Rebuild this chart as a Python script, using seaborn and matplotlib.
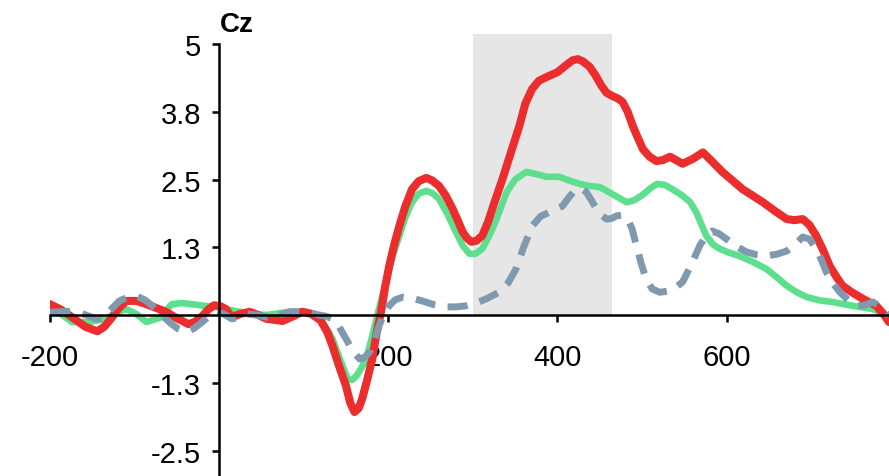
import matplotlib
matplotlib.use("Agg")
import matplotlib.pyplot as plt
import seaborn as sns

# ERP at Cz, time in ms, amplitude in microvolts
red_t = [-200, -187, -174, -158, -144, -136, -128, -119, -110, -98, -86, -63, -50, -36, -28, -20,
         -13, -6, 2, 8, 15, 25, 36, 46, 56, 75, 88, 98, 109, 120, 128, 134, 142, 150, 155, 160,
         165, 169, 175, 181, 186, 192, 196, 201, 207, 213, 220, 228, 236, 245, 252, 260, 268,
         276, 282, 288, 293, 298, 304, 311, 318, 326, 335, 345, 355, 362, 370, 378, 387, 400,
         412, 418, 424, 430, 438, 445, 452, 458, 465, 472, 477, 483, 489, 495, 501, 509, 517,
         525, 533, 540, 548, 560, 572, 583, 595, 607, 619, 631, 643, 657, 671, 680, 690, 698,
         706, 714, 722, 730, 737, 748, 761, 777, 785, 792]
red_v = [0.20, 0.10, -0.04, -0.22, -0.30, -0.22, -0.07, 0.12, 0.26, 0.26, 0.20, 0.06, -0.06, -0.17,
         -0.12, -0.02, 0.10, 0.18, 0.16, 0.11, -0.04, 0.02, 0.06, 0.00, -0.07, -0.11, -0.02, 0.06,
         0.02, -0.10, -0.32, -0.57, -0.95, -1.31, -1.62, -1.79, -1.72, -1.55, -1.20, -0.81, -0.35,
         0.11, 0.50, 0.90, 1.30, 1.64, 2.00, 2.32, 2.47, 2.53, 2.48, 2.38, 2.20, 1.96, 1.75, 1.53,
         1.42, 1.35, 1.37, 1.46, 1.72, 2.10, 2.51, 3.00, 3.49, 3.90, 4.17, 4.32, 4.39, 4.48, 4.63,
         4.70, 4.72, 4.68, 4.58, 4.42, 4.23, 4.10, 4.04, 3.99, 3.93, 3.75, 3.49, 3.27, 3.06, 2.92,
         2.84, 2.86, 2.92, 2.86, 2.79, 2.88, 3.00, 2.83, 2.64, 2.48, 2.32, 2.20, 2.08, 1.92, 1.77,
         1.75, 1.77, 1.66, 1.46, 1.20, 0.90, 0.70, 0.54, 0.42, 0.30, 0.17, 0.03, -0.13]

green_t = [-200, -187, -174, -154, -134, -122, -110, -98, -86, -70, -56, -44, -32, -18, -4, 10,
           24, 40, 56, 70, 86, 103, 112, 120, 127, 134, 143, 152, 157, 162, 168, 174, 180, 186,
           192, 198, 205, 213, 220, 228, 236, 245, 252, 260, 270, 280, 288, 296, 303, 311, 320,
           328, 340, 350, 363, 375, 387, 402, 414, 426, 438, 450, 465, 482, 491, 501, 510, 518,
           527, 538, 548, 557, 564, 570, 576, 584, 592, 603, 615, 631, 647, 659, 671, 683, 695,
           710, 725, 749, 773, 785, 792]
green_v = [0.20, 0.02, -0.13, -0.13, -0.07, 0.04, 0.11, 0.02, -0.13, -0.05, 0.20, 0.22, 0.20, 0.17,
           0.15, 0.10, 0.06, 0.02, 0.00, 0.03, 0.06, 0.06, 0.02, -0.08, -0.25, -0.44, -0.82, -1.18,
           -1.20, -1.13, -0.98, -0.81, -0.45, -0.07, 0.30, 0.66, 1.08, 1.46, 1.80, 2.08, 2.24, 2.29,
           2.25, 2.14, 1.86, 1.53, 1.28, 1.13, 1.13, 1.22, 1.48, 1.77, 2.27, 2.50, 2.64, 2.60, 2.55,
           2.55, 2.48, 2.42, 2.38, 2.36, 2.23, 2.08, 2.12, 2.22, 2.34, 2.42, 2.40, 2.30, 2.20, 2.08,
           1.90, 1.68, 1.46, 1.30, 1.22, 1.15, 1.09, 0.98, 0.85, 0.70, 0.54, 0.42, 0.33, 0.27, 0.24,
           0.17, 0.11, 0.03, -0.07]

gray_t = [-200, -187, -174, -163, -154, -146, -138, -128, -118, -108, -98, -88, -79, -69, -59,
          -49, -39, -30, -20, -12, -4, 5, 15, 24, 32, 44, 56, 70, 83, 103, 118, 126, 134, 142,
          150, 158, 166, 172, 178, 184, 189, 195, 201, 208, 217, 228, 240, 254, 268, 280, 292,
          304, 316, 331, 342, 351, 360, 370, 380, 391, 406, 414, 422, 428, 434, 440, 446, 452,
          458, 464, 470, 476, 482, 488, 493, 499, 505, 512, 521, 535, 548, 558, 568, 576, 583,
          591, 600, 612, 624, 636, 647, 659, 671, 681, 690, 698, 706, 712, 718, 726, 734, 744,
          754, 763, 773, 783, 792]
gray_v = [0.05, 0.06, 0.07, 0.03, -0.02, -0.07, -0.07, 0.10, 0.26, 0.33, 0.35, 0.28, 0.17, 0.02,
          -0.13, -0.25, -0.31, -0.25, -0.13, -0.02, 0.06, 0.02, -0.07, -0.04, 0.02, 0.00, -0.04,
          0.00, 0.06, 0.06, 0.00, -0.02, -0.07, -0.22, -0.44, -0.66, -0.81, -0.78, -0.68, -0.45,
          -0.20, 0.02, 0.17, 0.28, 0.33, 0.31, 0.26, 0.19, 0.15, 0.15, 0.17, 0.22, 0.30, 0.42,
          0.60, 0.85, 1.25, 1.64, 1.82, 1.90, 2.01, 2.18, 2.32, 2.33, 2.27, 2.12, 1.96, 1.84, 1.77,
          1.78, 1.83, 1.84, 1.80, 1.60, 1.30, 0.95, 0.66, 0.48, 0.42, 0.45, 0.61, 0.92, 1.27, 1.48,
          1.55, 1.50, 1.40, 1.26, 1.16, 1.11, 1.09, 1.12, 1.18, 1.30, 1.44, 1.40, 1.22, 1.02, 0.79,
          0.58, 0.42, 0.27, 0.17, 0.18, 0.24, 0.14, -0.02]

window = [300, 465]
yticks = [-2.5, -1.25, 1.25, 2.5, 3.75, 5]
ytick_labels = ["-2.5", "-1.3", "1.3", "2.5", "3.8", "5"]
xticks = [-200, 200, 400, 600]
xtick_labels = ["-200", "200", "400", "600"]

sns.set_style("white")
plt.rcParams['font.family'] = ['Liberation Sans', 'DejaVu Sans']
plt.rcParams['text.color'] = 'black'
plt.rcParams['xtick.color'] = 'black'
plt.rcParams['ytick.color'] = 'black'

fig = plt.figure(figsize=(8.89, 4.77), dpi=100)
ax = fig.add_axes([50 / 889, 0, 839 / 889, 1])

# analysis window
ax.fill_between(window, 0, 5.18, color='#e6e6e6', lw=0, zorder=0)

sns.lineplot(x=green_t, y=green_v, color='#5ddf8e', lw=4.8, ax=ax,
             solid_joinstyle='round', solid_capstyle='round', zorder=2)
sns.lineplot(x=red_t, y=red_v, color='#ec2d2d', lw=5.8, ax=ax,
             solid_joinstyle='round', solid_capstyle='round', zorder=3)
sns.lineplot(x=gray_t, y=gray_v, color='#7f9aae', lw=5.0, ax=ax,
             linestyle=(0, (2.9, 1.8)), zorder=4)

ax.set_xlim(-200, 792)
ax.set_ylim(-2.97, 5.83)

for s in ['top', 'right']:
    ax.spines[s].set_visible(False)
ax.spines['left'].set_position(('data', 0))
ax.spines['bottom'].set_position(('data', 0))
ax.spines['left'].set_bounds(-2.97, 5)
for s in ['left', 'bottom']:
    ax.spines[s].set_linewidth(1.8)
    ax.spines[s].set_color('black')
    ax.spines[s].set_zorder(5)

ax.set_yticks(yticks)
ax.set_yticklabels(ytick_labels)
ax.set_xticks(xticks)
ax.set_xticklabels(xtick_labels)
ax.tick_params(axis='y', direction='out', length=5, width=1.8, pad=8, labelsize=21, left=True,
               colors='black')
ax.tick_params(axis='x', direction='out', length=5, width=1.8, pad=15, labelsize=21, bottom=True,
               colors='black')
ax.set_xlabel('')
ax.set_ylabel('')

fig.text(220 / 889, 1 - 25 / 477, 'Cz', fontsize=20, fontweight='bold', color='black',
         ha='left', va='center')

fig.savefig('out.png', dpi=100)
